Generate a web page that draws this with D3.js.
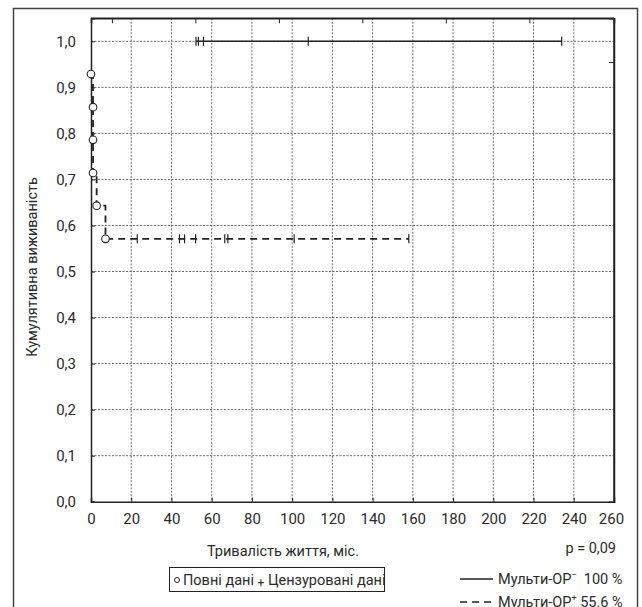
<!DOCTYPE html>
<html>
<head>
<meta charset="utf-8">
<script src="https://cdn.jsdelivr.net/npm/d3@7/dist/d3.min.js"></script>
<style>
  html, body { margin: 0; padding: 0; background: #fff; }
  svg { display: block; }
  text { fill: #2b2b2b; }
</style>
</head>
<body>
<svg id="chart" width="642" height="607"></svg>
<script>
// Survival data (months, cumulative survival)
const xTicks = [0, 20, 40, 60, 80, 100, 120, 140, 160, 180, 200, 220, 240, 260];
const yTicks = [0, 0.1, 0.2, 0.3, 0.4, 0.5, 0.6, 0.7, 0.8, 0.9, 1.0];
const topTicks = [10.4, 51.9, 93.4, 134.9, 176.4, 217.9];
const rightTicks = [0.955];

// Group without multiple risk factors: no events, censored observations only
const negCensored = [52.2, 53.4, 55.9, 108, 234];
const negSurvival = 1.0;

// Group with multiple risk factors: complete (event) observations
const posEventTimes = [0, 1, 1, 1, 2.8, 7.2];
const posEventSurv = [0.929, 0.857, 0.786, 0.714, 0.643, 0.571];
const posCensored = [23, 44, 46.5, 52, 66.5, 68, 101, 158];

const svg = d3.select("#chart");
const font = "Roboto, 'DejaVu Sans Condensed', Arial, sans-serif";
const tickFont = "Roboto, 'Liberation Sans', Arial, sans-serif";

const x = d3.scaleLinear().domain([0, 260]).range([91, 614]);
const y = d3.scaleLinear().domain([0, 1.05]).range([501.7, 18.3]);

// outer frame
svg.append("rect")
  .attr("x", 13.5).attr("y", 8.5).attr("width", 624).attr("height", 620)
  .attr("fill", "none").attr("stroke", "#444").attr("stroke-width", 1.5);

// grid
const grid = svg.append("g").attr("stroke", "#444").attr("stroke-width", 0.8)
  .attr("stroke-dasharray", "2,1.5");
grid.selectAll("line.v").data(xTicks.filter(d => d > 0 && d < 260)).join("line")
  .attr("x1", d => x(d)).attr("x2", d => x(d))
  .attr("y1", y.range()[1]).attr("y2", y.range()[0]);
grid.selectAll("line.h").data(yTicks.filter(d => d > 0)).join("line")
  .attr("x1", x.range()[0]).attr("x2", x.range()[1])
  .attr("y1", d => y(d)).attr("y2", d => y(d));

// axes (ticks point inward)
const gx = svg.append("g").attr("transform", `translate(0,${y(0)})`)
  .call(d3.axisBottom(x).tickValues(xTicks).tickSize(-4).tickPadding(12)
    .tickFormat(d3.format("d")));
const gy = svg.append("g").attr("transform", `translate(${x(0)},0)`)
  .call(d3.axisLeft(y).tickValues(yTicks).tickSize(-4).tickPadding(15)
    .tickFormat(d => d3.format(".1f")(d).replace(".", ",")));
const gt = svg.append("g").attr("transform", `translate(0,${y.range()[1]})`)
  .call(d3.axisTop(x).tickValues(topTicks).tickSize(-5).tickFormat(""));
const gr = svg.append("g").attr("transform", `translate(${x.range()[1]},0)`)
  .call(d3.axisRight(y).tickValues(rightTicks).tickSize(-5).tickFormat(""));

[gx, gy, gt, gr].forEach(g => {
  g.select(".domain").attr("stroke", "#222").attr("stroke-width", 1.5);
  g.selectAll(".tick line").attr("stroke", "#222").attr("stroke-width", 1);
  g.selectAll(".tick text").attr("font-family", tickFont).attr("font-size", 15)
    .attr("fill", "#2b2b2b");
});
// last x label sits slightly inside the right edge
gx.selectAll(".tick text").filter(d => d === 260).attr("dx", -3);

// close the plot box
svg.append("line").attr("x1", x(0)).attr("x2", x(260)).attr("y1", y.range()[1]).attr("y2", y.range()[1])
  .attr("stroke", "#222").attr("stroke-width", 1.5);
svg.append("line").attr("x1", x(260)).attr("x2", x(260)).attr("y1", y.range()[1]).attr("y2", y(0))
  .attr("stroke", "#222").attr("stroke-width", 1.5);

// solid curve: constant survival between first and last censored times
svg.append("line")
  .attr("x1", x(d3.min(negCensored))).attr("x2", x(d3.max(negCensored)))
  .attr("y1", y(negSurvival)).attr("y2", y(negSurvival))
  .attr("stroke", "#222").attr("stroke-width", 1.6);

// dashed Kaplan-Meier step curve
const stepPts = [];
posEventTimes.forEach((t, i) => {
  if (i > 0) stepPts.push([t, posEventSurv[i - 1]]);
  stepPts.push([t, posEventSurv[i]]);
});
stepPts.push([d3.max(posCensored), posEventSurv[posEventSurv.length - 1]]);
svg.append("path")
  .attr("d", d3.line().x(d => x(d[0])).y(d => y(d[1]))(stepPts))
  .attr("fill", "none").attr("stroke", "#222").attr("stroke-width", 1.8)
  .attr("stroke-dasharray", "7,5");

// censor marks
const lastPos = posEventSurv[posEventSurv.length - 1];
const marks = negCensored.map(t => [t, negSurvival]).concat(posCensored.map(t => [t, lastPos]));
svg.append("g").selectAll("line").data(marks).join("line")
  .attr("x1", d => x(d[0])).attr("x2", d => x(d[0]))
  .attr("y1", d => y(d[1]) - 4.5).attr("y2", d => y(d[1]) + 4.5)
  .attr("stroke", "#222").attr("stroke-width", 1.2);

// event circles
svg.append("g").selectAll("circle").data(posEventTimes.map((t, i) => [t, posEventSurv[i]])).join("circle")
  .attr("cx", d => x(d[0])).attr("cy", d => y(d[1])).attr("r", 3.8)
  .attr("fill", "#fff").attr("stroke", "#222").attr("stroke-width", 1.1);

// axis titles
svg.append("text").attr("x", 283).attr("y", 556).attr("text-anchor", "middle")
  .attr("font-family", font).attr("font-size", 14.5).text("Тривалість життя, міс.");
svg.append("text").attr("transform", `translate(37,267) rotate(-90)`).attr("text-anchor", "middle")
  .attr("font-family", font).attr("font-size", 14.5).text("Кумулятивна виживаність");
svg.append("text").attr("x", 616).attr("y", 553).attr("text-anchor", "end")
  .attr("font-family", font).attr("font-size", 14.5).text("p = 0,09");

// marker legend
const lg = svg.append("g");
lg.append("rect").attr("x", 169.5).attr("y", 567.5).attr("width", 215).attr("height", 24)
  .attr("fill", "#fff").attr("stroke", "#222").attr("stroke-width", 1);
lg.append("circle").attr("cx", 177).attr("cy", 580).attr("r", 2.5)
  .attr("fill", "#fff").attr("stroke", "#222").attr("stroke-width", 1);
const lt = lg.append("text").attr("x", 183).attr("y", 585)
  .attr("font-family", font).attr("font-size", 14.5);
lt.append("tspan").text("Повні дані ");
lt.append("tspan").attr("font-size", 12).attr("dy", 2).text("+");
lt.append("tspan").attr("dy", -2).text(" Цензуровані дані");

// series legend
const series = [
  { dash: null, name: "Мульти-ОР", sup: "−", val: "  100 %" },
  { dash: "7,5", name: "Мульти-ОР", sup: "+", val: " 55.6 %" }
];
series.forEach((s, i) => {
  const yy = 579 + i * 23;
  svg.append("line").attr("x1", 460).attr("x2", 493).attr("y1", yy).attr("y2", yy)
    .attr("stroke", "#222").attr("stroke-width", 1.6)
    .attr("stroke-dasharray", s.dash);
  const t = svg.append("text").attr("x", 498).attr("y", yy + 5)
    .attr("font-family", font).attr("font-size", 14.5);
  t.append("tspan").text(s.name);
  t.append("tspan").attr("font-size", 9).attr("dy", -6).text(s.sup);
  t.append("tspan").attr("dy", 6).attr("xml:space", "preserve").text(s.val);
});
</script>
</body>
</html>
